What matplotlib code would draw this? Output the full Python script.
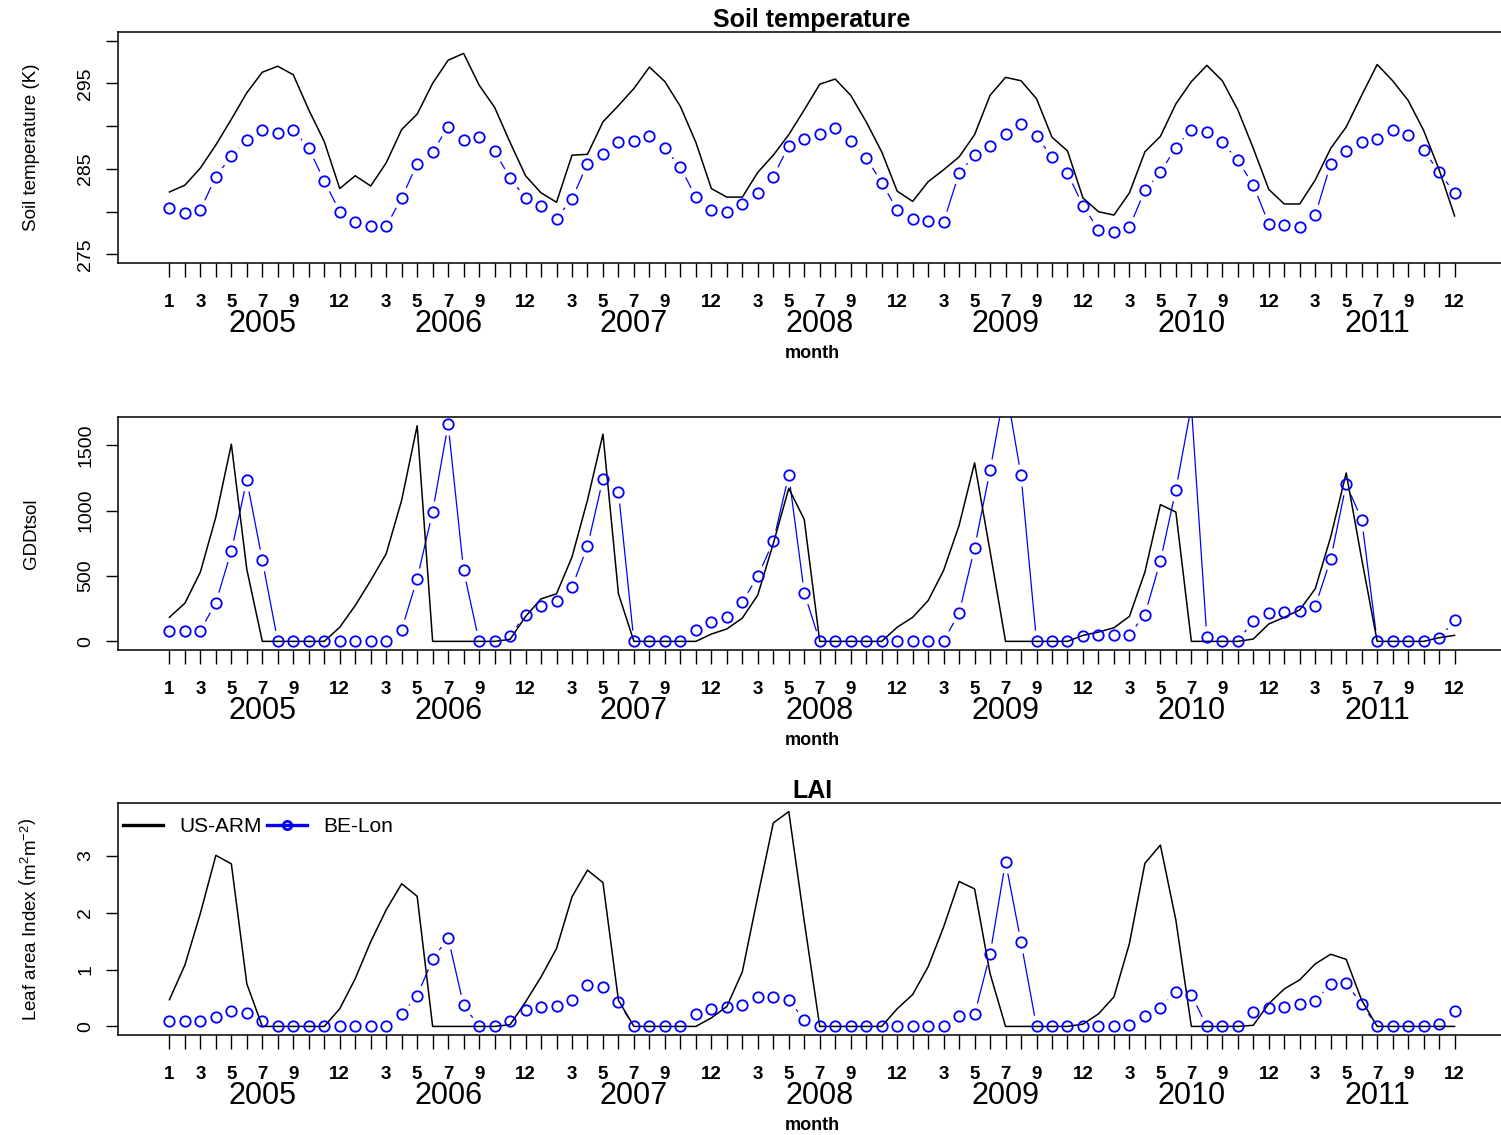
import matplotlib.pyplot as plt
from matplotlib.lines import Line2D
import numpy as np

plt.rcParams["font.family"] = ["Liberation Sans", "DejaVu Sans"]
plt.rcParams["mathtext.fontset"] = "custom"
plt.rcParams["mathtext.rm"] = "Liberation Sans"
plt.rcParams["mathtext.it"] = "Liberation Sans:italic"

years = [2005, 2006, 2007, 2008, 2009, 2010, 2011]
months = np.arange(1, 85)

# monthly soil temperature (K)
soil_us = [282.3, 283.1, 285.1, 287.8, 290.8, 293.9, 296.3, 297.0, 296.0, 291.9, 288.2, 282.7,
           284.2, 283.0, 285.7, 289.6, 291.4, 295.0, 297.7, 298.5, 294.8, 292.2, 288.1, 284.2,
           282.2, 281.1, 286.6, 286.7, 290.5, 292.4, 294.4, 296.9, 295.2, 292.3, 288.1, 282.7,
           281.7, 281.7, 284.6, 286.6, 289.0, 291.9, 294.9, 295.5, 293.6, 290.5, 287.0, 282.4,
           281.2, 283.5, 284.9, 286.4, 289.0, 293.6, 295.7, 295.3, 293.2, 288.7, 287.1, 281.6,
           280.0, 279.6, 282.2, 287.0, 288.8, 292.6, 295.2, 297.1, 295.3, 291.9, 287.4, 282.6,
           280.9, 280.9, 283.7, 287.4, 289.9, 293.6, 297.2, 295.3, 293.0, 289.5, 284.9, 279.5]
soil_be = [280.4, 279.8, 280.2, 284.1, 286.5, 288.4, 289.6, 289.2, 289.6, 287.4, 283.6, 280.0,
           278.8, 278.3, 278.3, 281.6, 285.6, 287.0, 289.9, 288.4, 288.7, 287.1, 283.9, 281.6,
           280.7, 279.2, 281.5, 285.6, 286.7, 288.1, 288.3, 288.9, 287.4, 285.2, 281.7, 280.2,
           280.0, 280.9, 282.2, 284.1, 287.7, 288.5, 289.1, 289.8, 288.3, 286.3, 283.4, 280.2,
           279.2, 278.9, 278.8, 284.5, 286.6, 287.7, 289.1, 290.2, 288.8, 286.4, 284.5, 280.7,
           277.9, 277.6, 278.2, 282.5, 284.6, 287.5, 289.6, 289.3, 288.1, 286.0, 283.1, 278.6,
           278.4, 278.2, 279.6, 285.6, 287.1, 288.1, 288.5, 289.5, 289.0, 287.2, 284.6, 282.2]

# growing degree days
gdd_us = [184, 292, 530, 952, 1508, 550, 0, 0, 0, 0, 0, 108,
          274, 466, 670, 1080, 1649, 0, 0, 0, 0, 0, 15, 190,
          325, 364, 645, 1080, 1585, 364, 0, 0, 0, 0, 0, 56,
          95, 178, 355, 748, 1170, 932, 0, 0, 0, 0, 0, 108,
          184, 312, 543, 887, 1365, 689, 0, 0, 0, 0, 0, 46,
          71, 104, 191, 530, 1046, 989, 0, 0, 0, 0, 18, 133,
          184, 241, 402, 799, 1288, 630, 0, 0, 0, 0, 28, 46]
gdd_be = [77, 77, 82, 297, 691, 1234, 620, 0, 0, 0, 0, 0,
          0, 0, 0, 90, 479, 991, 1661, 543, 0, 0, 44, 202,
          269, 312, 415, 727, 1242, 1144, 0, 0, 0, 0, 90, 151,
          184, 302, 498, 765, 1272, 371, 0, 0, 0, 0, 0, 3,
          3, 3, 3, 217, 716, 1308, 1960, 1270, 0, 0, 0, 40,
          47, 47, 52, 205, 615, 1160, 1800, 32, 0, 0, 159, 218,
          225, 236, 269, 630, 1202, 932, 0, 0, 0, 0, 25, 160]

# leaf area index
lai_us = [0.47, 1.08, 1.99, 3.01, 2.86, 0.75, 0, 0, 0, 0, 0, 0.31,
          0.84, 1.49, 2.05, 2.51, 2.29, 0, 0, 0, 0, 0, 0.03, 0.43,
          0.87, 1.37, 2.28, 2.75, 2.53, 0.46, 0, 0, 0, 0, 0, 0.15,
          0.35, 0.96, 2.29, 3.58, 3.78, 1.85, 0, 0, 0, 0, 0, 0.31,
          0.56, 1.05, 1.75, 2.55, 2.42, 0.93, 0, 0, 0, 0, 0, 0.04,
          0.22, 0.52, 1.46, 2.87, 3.19, 1.87, 0, 0, 0, 0, 0.02, 0.40,
          0.66, 0.82, 1.10, 1.27, 1.18, 0.46, 0, 0, 0, 0, 0, 0]
lai_be = [0.09, 0.09, 0.09, 0.16, 0.27, 0.24, 0.09, 0, 0, 0, 0, 0,
          0, 0, 0, 0.22, 0.54, 1.18, 1.56, 0.37, 0, 0, 0.09, 0.29,
          0.34, 0.36, 0.46, 0.72, 0.69, 0.43, 0, 0, 0, 0, 0.21, 0.30,
          0.34, 0.38, 0.51, 0.52, 0.47, 0.11, 0, 0, 0, 0, 0, 0,
          0, 0, 0, 0.18, 0.21, 1.27, 2.90, 1.48, 0, 0, 0, 0,
          0, 0, 0.02, 0.19, 0.33, 0.61, 0.56, 0, 0, 0, 0.26, 0.32,
          0.35, 0.39, 0.45, 0.75, 0.76, 0.39, 0, 0, 0, 0, 0.04, 0.27]

month_labels = []
for i in range(84):
    m = i % 12 + 1
    month_labels.append(str(m) if (m in (3, 5, 7, 9, 12) or i == 0) else "")

W, H = 1501, 1135
fig = plt.figure(figsize=(W / 100, H / 100), dpi=100)


def panel(top, bottom, us, be, ylim, yticks, ylabels, ylabel, title=None):
    ax = fig.add_axes([118 / W, 1 - bottom / H, (1506 - 118) / W, (bottom - top) / H])
    # R type="b": line with gaps around the points
    ax.plot(months, be, color="blue", lw=0.9, zorder=1.5)
    ax.plot(months, be, ls="none", marker="o", ms=16, mfc="white", mec="none", zorder=1.7)
    ax.plot(months, us, color="black", lw=1.1, zorder=2)
    ax.plot(months, be, ls="none", marker="o", ms=7.5, mfc="none", mec="blue", mew=1.3, zorder=3)

    ax.set_xlim(-2.32, 87.32)
    ax.set_ylim(*ylim)
    for s in ax.spines.values():
        s.set_linewidth(1.1)

    ax.set_xticks(months, month_labels)
    ax.tick_params(axis="x", length=10, width=1, pad=12.5, labelsize=13.5)
    for t in ax.get_xticklabels():
        t.set_fontweight("bold")
    ax.set_yticks(yticks, ylabels)
    ax.tick_params(axis="y", length=8.6, width=1, pad=8.5, labelsize=14)
    for t in ax.get_yticklabels():
        t.set_rotation(90)
        t.set_va("center")

    for k, yr in enumerate(years):
        ax.annotate(str(yr), xy=(12 * k + 7, 0), xycoords=("data", "axes fraction"),
                    xytext=(0, -44), textcoords="offset points",
                    ha="center", va="center", fontsize=22)
    ax.annotate("month", xy=(0.5, 0), xycoords="axes fraction",
                xytext=(0, -65), textcoords="offset points",
                ha="center", va="center", fontsize=13, fontweight="bold")

    ax.set_ylabel(ylabel, fontsize=13.5)
    ax.yaxis.set_label_coords(-0.056, 0.5)
    if title:
        ax.set_title(title, fontsize=18, fontweight="bold", pad=3)
    return ax


panel(32, 263, soil_us, soil_be, (274, 301), [275, 280, 285, 290, 295, 300],
      ["275", "", "285", "", "295", ""], "Soil temperature (K)", "Soil temperature")
panel(417, 650, gdd_us, gdd_be, (-66, 1716), [0, 500, 1000, 1500],
      ["0", "500", "1000", "1500"], "GDDtsol")
ax3 = panel(803, 1035, lai_us, lai_be, (-0.151, 3.931), [0, 1, 2, 3],
            ["0", "1", "2", "3"], r"Leaf area Index $\left(\mathrm{m^2 m^{-2}}\right)$", "LAI")

handles = [Line2D([], [], color="black", lw=2.4),
           Line2D([], [], color="blue", lw=2.4, marker="o", ms=6, mfc="none", mew=2)]
ax3.legend(handles, ["US-ARM", "BE-Lon"], ncol=2, frameon=False, fontsize=15,
           loc="center left", bbox_to_anchor=(5 / 1388, 1 - 24 / 232),
           borderaxespad=0, borderpad=0, handlelength=1.9, handletextpad=0.8,
           columnspacing=0.25)

fig.savefig("out.png", dpi=100, facecolor="white")
